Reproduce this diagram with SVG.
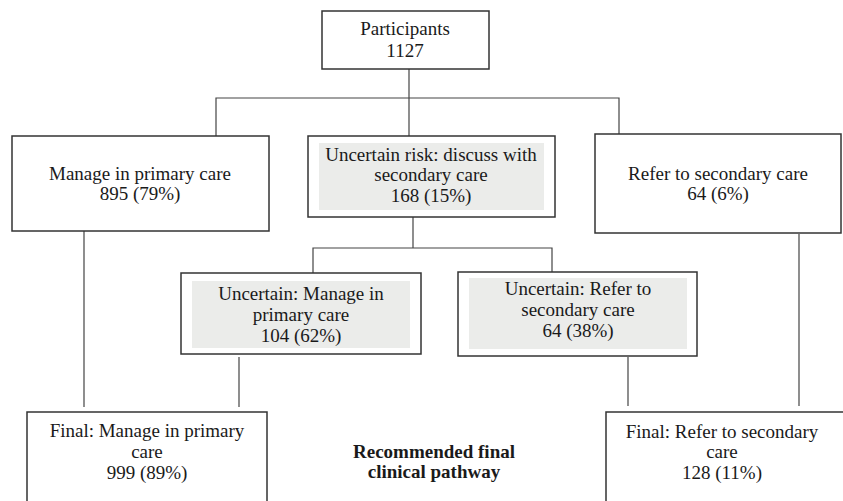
<svg xmlns="http://www.w3.org/2000/svg" width="843" height="501" viewBox="0 0 843 501">
<style>
.box{fill:#ffffff;stroke:#333333;stroke-width:1.5}
.shade{fill:#ebecea;stroke:none}
.ln{fill:none;stroke:#444444;stroke-width:1.2}
text{font-family:"Liberation Serif","Times New Roman",serif;font-size:19px;fill:#1a1a1a;text-anchor:middle}
.b{font-weight:bold}
</style>
<rect width="843" height="501" fill="#ffffff"/>
<g id="connectors">
<path class="ln" d="M409,69 V136"/>
<path class="ln" d="M216,136 V98 H619 V134"/>
<path class="ln" d="M413,217 V248"/>
<path class="ln" d="M313,273 V248 H552 V272"/>
<path class="ln" d="M84,231 V407"/>
<path class="ln" d="M239,357 V407"/>
<path class="ln" d="M628,357 V406"/>
<path class="ln" d="M799,234 V406"/>
</g>
<g id="participants">
<rect class="box" x="322" y="11" width="167" height="58"/>
<text x="405" y="35">Participants</text>
<text x="405" y="57">1127</text>
</g>
<g id="manage-primary">
<rect class="box" x="12" y="136" width="257" height="95"/>
<text x="140" y="180">Manage in primary care</text>
<text x="140" y="200">895 (79%)</text>
</g>
<g id="uncertain-risk">
<rect class="box" x="308" y="136" width="247" height="81"/>
<rect class="shade" x="319" y="143" width="225" height="67"/>
<text x="431" y="161">Uncertain risk: discuss with</text>
<text x="431" y="181">secondary care</text>
<text x="431" y="202">168 (15%)</text>
</g>
<g id="refer-secondary">
<rect class="box" x="595" y="134" width="246" height="99"/>
<text x="718" y="180">Refer to secondary care</text>
<text x="718" y="200">64 (6%)</text>
</g>
<g id="uncertain-manage">
<rect class="box" x="181" y="273" width="240" height="81"/>
<rect class="shade" x="192" y="281" width="218" height="67"/>
<text x="301" y="300">Uncertain: Manage in</text>
<text x="301" y="321">primary care</text>
<text x="301" y="342">104 (62%)</text>
</g>
<g id="uncertain-refer">
<rect class="box" x="458" y="272" width="239" height="84"/>
<rect class="shade" x="469" y="278" width="218" height="71"/>
<text x="578" y="295">Uncertain: Refer to</text>
<text x="578" y="316">secondary care</text>
<text x="578" y="337">64 (38%)</text>
</g>
<g id="final-manage">
<rect class="box" x="27" y="412" width="240" height="100"/>
<text x="147" y="437">Final: Manage in primary</text>
<text x="147" y="458">care</text>
<text x="147" y="479">999 (89%)</text>
</g>
<g id="label">
<text class="b" x="434" y="458">Recommended final</text>
<text class="b" x="434" y="478">clinical pathway</text>
</g>
<g id="final-refer">
<rect class="box" x="606" y="412" width="250" height="100"/>
<text x="722" y="438">Final: Refer to secondary</text>
<text x="722" y="458">care</text>
<text x="722" y="479">128 (11%)</text>
</g>
</svg>
